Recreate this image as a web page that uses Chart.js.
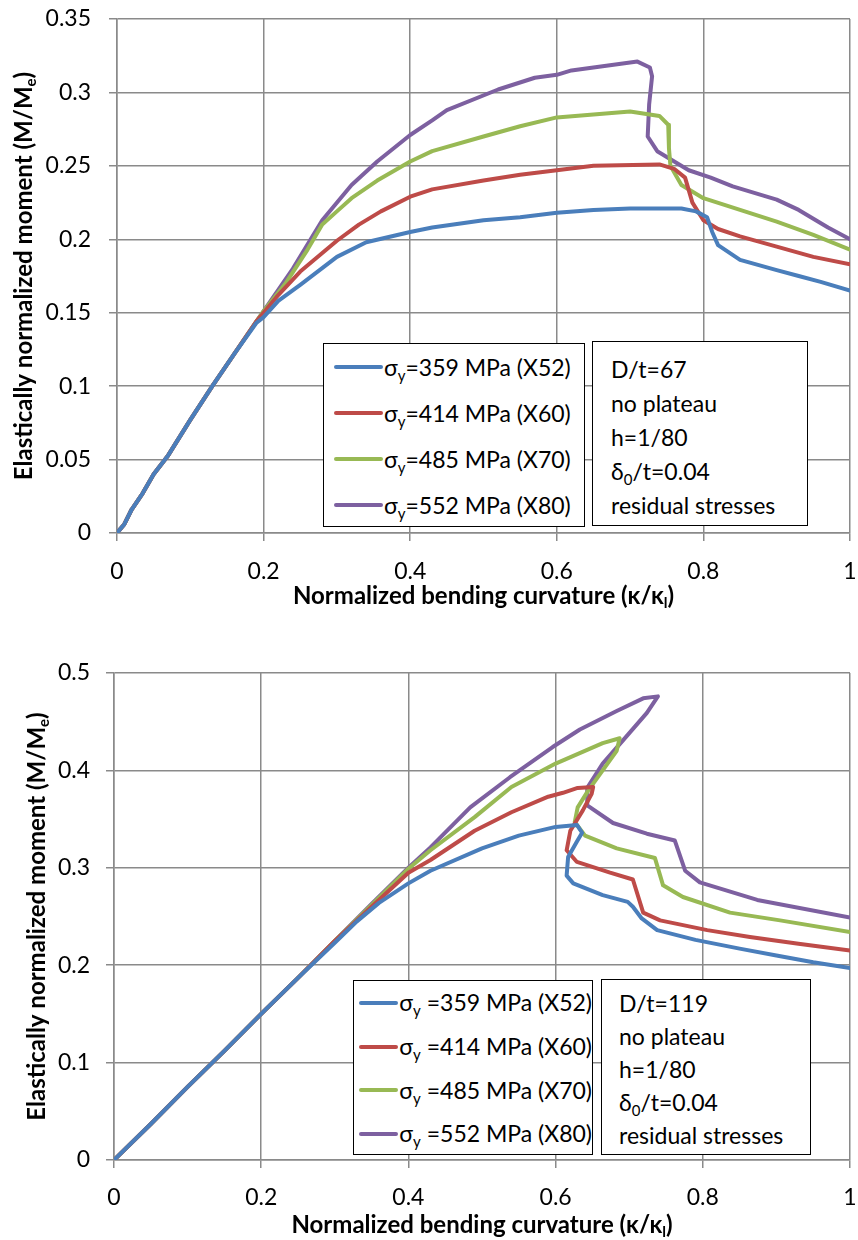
<!DOCTYPE html>
<html>
<head>
<meta charset="utf-8">
<script src="https://cdn.jsdelivr.net/npm/chart.js@4.4.0/dist/chart.umd.min.js"></script>
<style>
  body { margin: 0; background: #fff; font-family: Lato, sans-serif; }
  #page { position: relative; width: 858px; height: 1240px; overflow: hidden; }
  .wrap { position: absolute; left: 0; width: 858px; }
  .box { position: absolute; border: 1.5px solid #000; background: #fff; box-sizing: border-box; color: #000; font-size: 23px; }
  .entry { display: flex; align-items: center; white-space: nowrap; }
  .swatch { display: inline-block; height: 4px; border-radius: 2px; margin-right: 1px; }
  .note div { white-space: nowrap; }
  sub { font-size: 15px; vertical-align: -5px; line-height: 0; }
</style>
</head>
<body>
<div id="page">
  <div class="wrap" style="top:0;height:620px"><canvas id="topChart" width="858" height="620"></canvas></div>
  <div class="wrap" style="top:640px;height:600px"><canvas id="bottomChart" width="858" height="600"></canvas></div>

  <div id="legendTop" class="box" style="left:323px;top:343px;width:262px;height:184px;padding-left:10px;line-height:46px"></div>
  <div class="box note" style="left:592px;top:341px;width:216px;height:185px;padding:10px 0 0 18px;line-height:34px">
    <div>D/t=67</div><div>no plateau</div><div>h=1/80</div><div>&delta;<sub>0</sub>/t=0.04</div><div>residual stresses</div>
  </div>

  <div id="legendBottom" class="box" style="left:353px;top:980px;width:240px;height:175px;padding-left:5px;line-height:43.75px"></div>
  <div class="box note" style="left:601px;top:979px;width:210px;height:176px;padding:7px 0 0 17px;line-height:33px">
    <div>D/t=119</div><div>no plateau</div><div>h=1/80</div><div>&delta;<sub>0</sub>/t=0.04</div><div>residual stresses</div>
  </div>
</div>

<script>
// series names and colours
const gradeLabels = ['359 MPa (X52)', '414 MPa (X60)', '485 MPa (X70)', '552 MPa (X80)'];
const gradeColors = ['#4A7EBB', '#BE4B48', '#98B954', '#7D60A0'];

// axis ticks
const xTicks = [0, 0.2, 0.4, 0.6, 0.8, 1];
const yTicksTop = [0, 0.05, 0.1, 0.15, 0.2, 0.25, 0.3, 0.35];
const yTicksBottom = [0, 0.1, 0.2, 0.3, 0.4, 0.5];

// top chart, D/t = 67 : [curvature, moment]
const topX52 = [[0,0],[0.01,0.006],[0.02,0.016],[0.035,0.027],[0.05,0.04],[0.07,0.053],[0.1,0.077],[0.13,0.1],[0.16,0.122],[0.19,0.143],
  [0.2,0.147],[0.22,0.158],[0.25,0.169],[0.3,0.188],[0.34,0.198],[0.4,0.205],[0.43,0.208],[0.5,0.213],[0.55,0.215],[0.6,0.218],
  [0.65,0.22],[0.7,0.221],[0.77,0.221],[0.79,0.219],[0.805,0.215],[0.812,0.205],[0.82,0.196],[0.85,0.186],[0.9,0.179],[0.93,0.175],
  [0.96,0.171],[1.0,0.165]];
const topX60 = [[0,0],[0.01,0.006],[0.02,0.016],[0.035,0.027],[0.05,0.04],[0.07,0.053],[0.1,0.077],[0.13,0.1],[0.16,0.122],[0.19,0.144],
  [0.2,0.15],[0.22,0.162],[0.25,0.178],[0.3,0.199],[0.33,0.21],[0.36,0.219],[0.4,0.229],[0.43,0.234],[0.5,0.24],[0.55,0.244],
  [0.6,0.247],[0.65,0.25],[0.74,0.251],[0.76,0.248],[0.775,0.242],[0.785,0.225],[0.8,0.213],[0.82,0.207],[0.85,0.202],[0.9,0.195],
  [0.95,0.188],[1.0,0.183]];
const topX70 = [[0,0],[0.01,0.006],[0.02,0.016],[0.035,0.027],[0.05,0.04],[0.07,0.053],[0.1,0.077],[0.13,0.1],[0.16,0.122],[0.19,0.144],
  [0.2,0.151],[0.23,0.17],[0.26,0.193],[0.28,0.21],[0.3,0.219],[0.32,0.228],[0.355,0.24],[0.4,0.253],[0.43,0.26],[0.5,0.27],
  [0.55,0.277],[0.6,0.283],[0.65,0.285],[0.7,0.287],[0.74,0.284],[0.752,0.278],[0.753,0.262],[0.755,0.25],[0.77,0.237],[0.8,0.228],
  [0.85,0.22],[0.9,0.212],[0.95,0.203],[1.0,0.193]];
const topX80 = [[0,0],[0.01,0.006],[0.02,0.016],[0.035,0.027],[0.05,0.04],[0.07,0.053],[0.1,0.077],[0.13,0.1],[0.16,0.122],[0.19,0.144],
  [0.2,0.151],[0.24,0.18],[0.28,0.213],[0.32,0.237],[0.355,0.253],[0.4,0.271],[0.43,0.281],[0.45,0.288],[0.52,0.302],[0.57,0.31],
  [0.6,0.312],[0.62,0.315],[0.71,0.321],[0.727,0.317],[0.73,0.311],[0.726,0.292],[0.724,0.27],[0.737,0.26],[0.78,0.247],[0.81,0.242],
  [0.84,0.236],[0.9,0.227],[0.93,0.22],[0.97,0.208],[1.0,0.2]];

// bottom chart, D/t = 119
const botX52 = [[0,0],[0.05,0.037],[0.1,0.075],[0.15,0.112],[0.2,0.15],[0.25,0.187],[0.3,0.223],[0.33,0.245],[0.36,0.264],[0.4,0.284],
  [0.43,0.297],[0.5,0.32],[0.55,0.333],[0.6,0.342],[0.629,0.344],[0.636,0.336],[0.629,0.327],[0.617,0.311],[0.615,0.292],[0.624,0.284],
  [0.664,0.272],[0.698,0.265],[0.705,0.26],[0.717,0.248],[0.738,0.236],[0.79,0.226],[0.85,0.217],[0.9,0.21],[0.95,0.203],[1.0,0.197]];
const botX60 = [[0,0],[0.05,0.037],[0.1,0.075],[0.15,0.112],[0.2,0.15],[0.25,0.187],[0.3,0.225],[0.35,0.26],[0.4,0.295],[0.43,0.308],
  [0.49,0.338],[0.54,0.357],[0.59,0.373],[0.61,0.377],[0.63,0.382],[0.651,0.383],[0.649,0.376],[0.637,0.359],[0.62,0.338],[0.615,0.318],
  [0.629,0.306],[0.674,0.295],[0.705,0.288],[0.719,0.254],[0.742,0.246],[0.806,0.236],[0.864,0.229],[0.93,0.222],[1.0,0.215]];
const botX70 = [[0,0],[0.05,0.037],[0.1,0.075],[0.15,0.112],[0.2,0.15],[0.25,0.187],[0.3,0.225],[0.35,0.262],[0.4,0.299],[0.43,0.318],
  [0.49,0.352],[0.54,0.383],[0.6,0.407],[0.664,0.428],[0.687,0.433],[0.683,0.42],[0.664,0.4],[0.644,0.379],[0.63,0.362],[0.626,0.347],
  [0.64,0.333],[0.683,0.32],[0.735,0.31],[0.746,0.282],[0.773,0.27],[0.837,0.254],[0.905,0.246],[1.0,0.234]];
const botX80 = [[0,0],[0.05,0.037],[0.1,0.075],[0.15,0.112],[0.2,0.15],[0.25,0.187],[0.3,0.225],[0.35,0.263],[0.4,0.3],[0.43,0.321],
  [0.484,0.362],[0.538,0.393],[0.596,0.424],[0.633,0.442],[0.683,0.461],[0.719,0.474],[0.739,0.476],[0.724,0.459],[0.701,0.439],[0.664,0.407],
  [0.643,0.382],[0.643,0.364],[0.678,0.346],[0.724,0.335],[0.762,0.328],[0.776,0.297],[0.796,0.285],[0.874,0.267],[1.0,0.249]];

const FONT = 'Lato, sans-serif';

// draws text with a subscript piece, optionally rotated
function drawRichText(ctx, parts, x, y, angle) {
  ctx.save();
  ctx.translate(x, y);
  ctx.rotate(angle);
  ctx.fillStyle = '#000';
  ctx.textBaseline = 'middle';
  const main = 'bold 24px ' + FONT;
  const small = 'bold 15px ' + FONT;
  let total = 0;
  parts.forEach(p => { ctx.font = p.sub ? small : main; total += ctx.measureText(p.t).width; });
  let cx = -total / 2;
  parts.forEach(p => {
    ctx.font = p.sub ? small : main;
    ctx.fillText(p.t, cx, p.sub ? 7 : 0);
    cx += ctx.measureText(p.t).width;
  });
  ctx.restore();
}

const axisTitles = {
  id: 'axisTitles',
  afterDraw(chart, args, opts) {
    const { ctx, chartArea } = chart;
    const midX = (chartArea.left + chartArea.right) / 2;
    const midY = (chartArea.top + chartArea.bottom) / 2;
    drawRichText(ctx, [{ t: 'Normalized bending curvature (κ/κ' }, { t: 'l', sub: true }, { t: ')' }], midX, opts.xTitleY, 0);
    drawRichText(ctx, [{ t: 'Elastically normalized moment (M/M' }, { t: 'e', sub: true }, { t: ')' }], opts.yTitleX, midY, -Math.PI / 2);
  }
};

function makeChart(id, seriesList, yTicks, layout) {
  const datasets = seriesList.map((pts, i) => ({
    label: gradeLabels[i],
    data: pts.map(p => ({ x: p[0], y: p[1] })),
    showLine: true,
    borderColor: gradeColors[i],
    backgroundColor: gradeColors[i],
    borderWidth: 4,
    pointRadius: 0,
    tension: 0,
    borderJoinStyle: 'round',
    borderCapStyle: 'round'
  }));
  const gridStyle = { color: '#8a8a8a', lineWidth: 1.5, tickLength: 8 };
  return new Chart(document.getElementById(id), {
    type: 'scatter',
    data: { datasets },
    plugins: [axisTitles],
    options: {
      responsive: false,
      animation: false,
      layout: { padding: { top: layout.top, right: 8, left: 0, bottom: 0 } },
      plugins: {
        legend: { display: false },
        tooltip: { enabled: false },
        axisTitles: { xTitleY: layout.xTitleY, yTitleX: layout.yTitleX }
      },
      scales: {
        x: {
          type: 'linear', min: 0, max: 1,
          grid: gridStyle,
          border: { color: '#8a8a8a', width: 1.5 },
          afterBuildTicks: s => { s.ticks = xTicks.map(v => ({ value: v })); },
          afterFit: s => { s.height = layout.xHeight; s.paddingLeft = 0; s.paddingRight = 0; },
          ticks: { color: '#000', font: { family: FONT, size: 23 }, padding: layout.xPad, maxRotation: 0, callback: v => String(v) }
        },
        y: {
          type: 'linear', min: 0, max: yTicks[yTicks.length - 1],
          grid: gridStyle,
          border: { color: '#8a8a8a', width: 1.5 },
          afterBuildTicks: s => { s.ticks = yTicks.map(v => ({ value: v })); },
          afterFit: s => { s.width = layout.left; s.paddingTop = 0; s.paddingBottom = 0; },
          ticks: { color: '#000', font: { family: FONT, size: 23 }, padding: layout.yPad, callback: v => String(v) }
        }
      }
    }
  });
}

makeChart('topChart', [topX52, topX60, topX70, topX80], yTicksTop,
  { top: 19, left: 117, xHeight: 87, xPad: 17, yPad: 18, xTitleY: 596, yTitleX: 24 });
makeChart('bottomChart', [botX52, botX60, botX70, botX80], yTicksBottom,
  { top: 33, left: 114, xHeight: 80, xPad: 16, yPad: 16, xTitleY: 585, yTitleX: 37 });

// legends
function buildLegend(elId, spacer, swatchW) {
  const el = document.getElementById(elId);
  gradeLabels.forEach((lab, i) => {
    const row = document.createElement('div');
    row.className = 'entry';
    row.style.height = el.style.lineHeight;
    row.innerHTML = '<span class="swatch" style="width:' + swatchW + 'px;background:' + gradeColors[i] + '"></span>' +
      '<span>σ<sub>y</sub>' + spacer + '=' + lab + '</span>';
    el.appendChild(row);
  });
}
buildLegend('legendTop', '', 49);
buildLegend('legendBottom', ' ', 45);
</script>
</body>
</html>
